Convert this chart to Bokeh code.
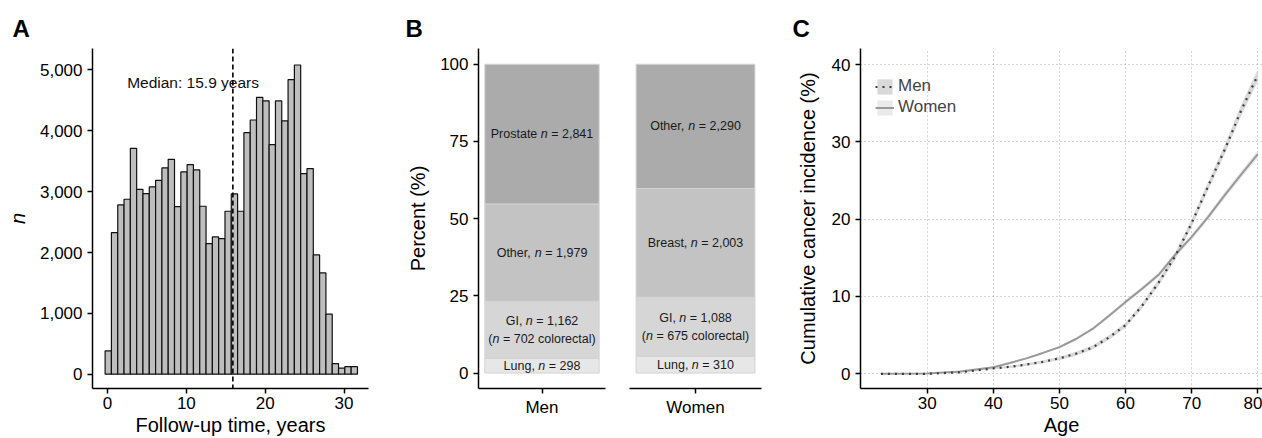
import numpy as np
from bokeh.plotting import figure
from bokeh.layouts import row
from bokeh.models import (FixedTicker, NumeralTickFormatter, Span, ColumnDataSource,
                          FactorRange, Legend, LegendItem, Range1d)
from bokeh.embed import file_html
from bokeh.resources import INLINE
from bokeh.core.properties import value

# ---------------- data ----------------
# Panel A: follow-up histogram
followup_bin_start = -0.3
followup_bin_width = 0.8
followup_counts = [383, 2327, 2782, 2875, 3713, 3039, 2968, 3078, 3187, 3390,
                   3532, 2755, 3324, 3445, 3357, 2760, 2147, 2256, 2229, 2678,
                   2963, 2678, 3970, 4178, 4551, 4491, 3773, 4491, 4162, 4841,
                   5082, 3297, 3379, 1961, 1665, 986, 175, 99, 126, 126]
median_followup = 15.9
median_text = "Median: 15.9 years"
count_ticks = [0, 1000, 2000, 3000, 4000, 5000]
year_ticks = [0, 10, 20, 30]

# Panel B: cancer sites
men_sites = ["Lung", "GI", "Other", "Prostate"]
men_counts = [298, 1162, 1979, 2841]
men_labels = [["Lung, {n} = 298"],
              ["GI, {n} = 1,162", "({n} = 702 colorectal)"],
              ["Other, {n} = 1,979"],
              ["Prostate {n} = 2,841"]]
women_sites = ["Lung", "GI", "Breast", "Other"]
women_counts = [310, 1088, 2003, 2290]
women_labels = [["Lung, {n} = 310"],
                ["GI, {n} = 1,088", "({n} = 675 colorectal)"],
                ["Breast, {n} = 2,003"],
                ["Other, {n} = 2,290"]]
percent_ticks = [0, 25, 50, 75, 100]

# Panel C: cumulative incidence
ages = [23, 30, 35, 40, 42.5, 45, 47.5, 50, 52.5, 55, 57.5, 60, 62.5, 65,
        67.5, 70, 72.5, 75, 77.5, 80]
men_incidence = [0, 0.0, 0.2, 0.7, 0.9, 1.2, 1.55, 2.0, 2.6, 3.4, 4.7, 6.3,
                 8.8, 11.8, 15.2, 19.5, 24.3, 29.0, 34.1, 38.6]
women_incidence = [0, 0.05, 0.3, 0.86, 1.4, 2.0, 2.7, 3.45, 4.5, 5.8, 7.5,
                   9.3, 11.0, 12.8, 15.4, 17.7, 20.3, 23.1, 25.8, 28.4]
men_ci_half = [0, 0, 0.05, 0.1, 0.15, 0.15, 0.2, 0.2, 0.25, 0.25, 0.3, 0.3,
               0.35, 0.4, 0.45, 0.5, 0.55, 0.6, 0.7, 0.8]
women_ci_half = [0, 0, 0.03, 0.07, 0.1, 0.12, 0.15, 0.15, 0.18, 0.2, 0.22,
                 0.25, 0.28, 0.3, 0.32, 0.35, 0.38, 0.4, 0.45, 0.5]
age_ticks = [30, 40, 50, 60, 70, 80]
incidence_ticks = [0, 10, 20, 30, 40]

# ---------------- style ----------------
FONT = "Liberation Sans"
TICK_SIZE = "17px"
TITLE_SIZE = "20px"
H = 438


def style_axes(p):
    for ax in p.xaxis + p.yaxis:
        ax.axis_line_color = "black"
        ax.axis_line_width = 1.5
        ax.major_tick_line_color = "black"
        ax.major_tick_line_width = 1.5
        ax.major_tick_in = 0
        ax.major_tick_out = 5
        ax.minor_tick_line_color = None
        ax.major_label_text_font = FONT
        ax.major_label_text_font_size = TICK_SIZE
        ax.major_label_text_color = "black"
        ax.major_label_standoff = 5
        ax.axis_label_text_font = FONT
        ax.axis_label_text_font_size = TITLE_SIZE
        ax.axis_label_text_font_style = "normal"
        ax.axis_label_text_color = "black"
    p.outline_line_color = None
    p.background_fill_color = "white"
    p.border_fill_color = "white"


def panel_letter(p, letter, offset):
    p.title.text = letter
    p.title.text_font = FONT
    p.title.text_font_size = "24px"
    p.title.text_font_style = "bold"
    p.title.text_color = "black"
    p.title.align = "left"
    p.title.offset = offset
    p.title.standoff = 14


# ---------------- Panel A ----------------
edges = followup_bin_start + followup_bin_width * np.arange(len(followup_counts) + 1)
srcA = ColumnDataSource(dict(left=edges[:-1], right=edges[1:],
                             top=followup_counts, bottom=[0] * len(followup_counts)))
pA = figure(width=390, height=H, output_backend="svg", toolbar_location=None,
            x_range=Range1d(-1.9, 33.1), y_range=Range1d(-235, 5353),
            min_border_left=92, min_border_right=22, min_border_top=48,
            min_border_bottom=50, title="A")
pA.quad(left="left", right="right", top="top", bottom="bottom", source=srcA,
        fill_color="#bebebe", line_color="#111111", line_width=1.2)
pA.add_layout(Span(location=median_followup, dimension="height", line_color="black",
                   line_dash="5 3", line_width=1.6))
pA.text(x=[10.85], y=[4790], text=[median_text], text_font=value(FONT),
        text_font_size="15.5px", text_align="center", text_baseline="middle",
        text_color="#111111")
pA.xaxis.ticker = FixedTicker(ticks=year_ticks)
pA.yaxis.ticker = FixedTicker(ticks=count_ticks)
pA.yaxis.formatter = NumeralTickFormatter(format="0,0")
pA.xaxis.axis_label = "Follow-up time, years"
pA.yaxis.axis_label = "n"
pA.xgrid.visible = False
pA.ygrid.visible = False
style_axes(pA)
pA.yaxis.axis_label_text_font_style = "italic"
pA.yaxis.axis_label_standoff = 8
pA.xaxis.axis_label_standoff = 2
pA.xaxis.major_label_standoff = 3
panel_letter(pA, "A", -80)

# ---------------- Panel B ----------------
ARIAL_W = {' ': 278, ',': 278, '=': 584, '(': 333, ')': 333, '.': 278,
           'P': 667, 'r': 333, 'o': 556, 's': 500, 't': 278, 'a': 556, 'e': 556,
           'n': 556, 'O': 778, 'h': 556, 'G': 778, 'I': 278, 'L': 556, 'u': 556,
           'g': 556, 'B': 667, 'c': 500, 'l': 222, 'i': 222}
LABEL_PX = 12.5
segment_colors = ["#e7e7e7", "#d6d6d6", "#c3c3c3", "#ababab"]


def text_w(s):
    return sum(ARIAL_W.get(ch, 556) for ch in s) / 1000.0 * LABEL_PX


def stack_panel(p, factor, counts, labels):
    counts = np.array(counts, dtype=float)
    pct = counts / counts.sum() * 100
    tops = np.cumsum(pct)
    bottoms = tops - pct
    mids = (tops + bottoms) / 2
    p.vbar(x=[factor] * len(counts), width=0.9, bottom=bottoms, top=tops,
           fill_color=segment_colors, line_color="#d2d2d2", line_width=1)
    normal = dict(x=[], y=[], text=[], xo=[], yo=[])
    italic = dict(x=[], y=[], text=[], xo=[], yo=[])
    for mid, lines in zip(mids, labels):
        if len(lines) == 1:
            yoffs = [0]
        else:
            yoffs = [-8.8, 8.8]
        for line, yo in zip(lines, yoffs):
            pre, post = line.split("{n}")
            pieces = [(pre, normal), ("n", italic), (post, normal)]
            total = sum(text_w(t) for t, _ in pieces)
            xo = -total / 2
            for t, d in pieces:
                core = t.strip()
                if core:
                    lead = len(t) - len(t.lstrip())
                    d["x"].append(factor)
                    d["y"].append(mid)
                    d["text"].append(core)
                    d["xo"].append(xo + text_w(t[:lead]))
                    d["yo"].append(yo)
                xo += text_w(t)
    for d, style in ((normal, "normal"), (italic, "italic")):
        p.text(x="x", y="y", text="text", x_offset="xo", y_offset="yo",
               source=ColumnDataSource(d), text_font=value(FONT),
               text_font_size=f"{LABEL_PX}px", text_align="left",
               text_baseline="middle", text_color="#1a1a1a",
               text_font_style=style)


pB1 = figure(width=227, height=H, output_backend="svg", toolbar_location=None,
             x_range=FactorRange("Men"), y_range=Range1d(-5.0, 105.1),
             min_border_left=88, min_border_right=12, min_border_top=48,
             min_border_bottom=46, title="B")
stack_panel(pB1, "Men", men_counts, men_labels)
pB1.yaxis.ticker = FixedTicker(ticks=percent_ticks)
pB1.yaxis.axis_label = "Percent (%)"
pB1.xgrid.visible = False
pB1.ygrid.visible = False
style_axes(pB1)
pB1.yaxis.axis_label_standoff = 8
pB1.xaxis.major_label_standoff = 4
panel_letter(pB1, "B", -73)

pB2 = figure(width=168, height=H, output_backend="svg", toolbar_location=None,
             x_range=FactorRange("Women"), y_range=Range1d(-5.0, 105.1),
             min_border_left=12, min_border_right=24, min_border_top=48,
             min_border_bottom=46)
stack_panel(pB2, "Women", women_counts, women_labels)
pB2.yaxis.visible = False
pB2.xgrid.visible = False
pB2.ygrid.visible = False
style_axes(pB2)
pB2.xaxis.major_label_standoff = 4

# ---------------- Panel C ----------------
men_arr = np.array(men_incidence)
women_arr = np.array(women_incidence)
srcC = ColumnDataSource(dict(
    age=ages, men=men_incidence, women=women_incidence,
    men_lo=men_arr - np.array(men_ci_half), men_hi=men_arr + np.array(men_ci_half),
    women_lo=women_arr - np.array(women_ci_half), women_hi=women_arr + np.array(women_ci_half)))

pC = figure(width=477, height=H, output_backend="svg", toolbar_location=None,
            x_range=Range1d(19.91, 80.71), y_range=Range1d(-1.9, 42.07),
            min_border_left=75, min_border_right=0, min_border_top=48,
            min_border_bottom=50, title="C")
men_band = pC.varea(x="age", y1="men_lo", y2="men_hi", source=srcC,
                    fill_color="#c4c4c4", fill_alpha=0.65)
women_band = pC.varea(x="age", y1="women_lo", y2="women_hi", source=srcC,
                      fill_color="#d9d9d9", fill_alpha=0.55)
women_line = pC.line(x="age", y="women", source=srcC, line_color="#999999",
                     line_width=2)
men_line = pC.line(x="age", y="men", source=srcC, line_color="#3c3c3c",
                   line_width=2.2, line_dash="2 5")
pC.xaxis.ticker = FixedTicker(ticks=age_ticks)
pC.yaxis.ticker = FixedTicker(ticks=incidence_ticks)
pC.xaxis.axis_label = "Age"
pC.yaxis.axis_label = "Cumulative cancer incidence (%)"
for g in (pC.xgrid, pC.ygrid):
    g.grid_line_color = "#a8a8a8"
    g.grid_line_dash = "1 3"
    g.grid_line_width = 1
style_axes(pC)
pC.yaxis.axis_label_standoff = 10
pC.xaxis.axis_label_standoff = 2
pC.xaxis.major_label_standoff = 3
panel_letter(pC, "C", -68)

legend = Legend(items=[LegendItem(label="Men", renderers=[men_band, men_line]),
                       LegendItem(label="Women", renderers=[women_band, women_line])],
                location=(15, 271), glyph_width=19, glyph_height=19,
                label_height=19, spacing=1, padding=0, margin=0,
                label_standoff=4, label_text_font=FONT,
                label_text_font_size="17px", border_line_alpha=0,
                background_fill_alpha=0)
pC.add_layout(legend)

layout = row(pA, pB1, pB2, pC)
open("out.html", "w").write(file_html(layout, INLINE))
